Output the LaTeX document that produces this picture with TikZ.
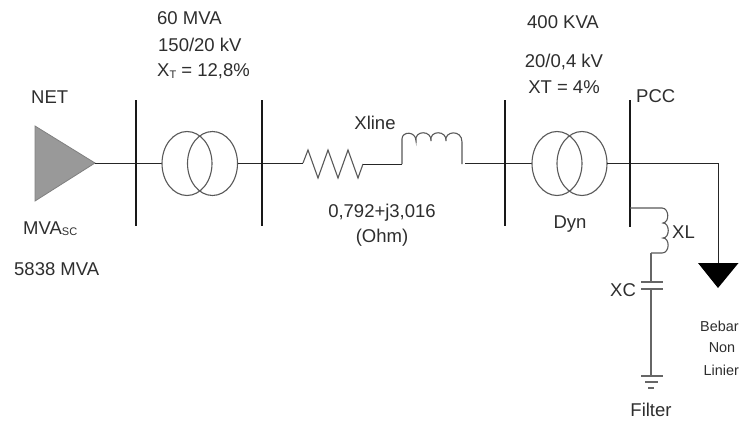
\documentclass[tikz,border=0pt]{standalone}
\usepackage{fontspec}
\setmainfont{Liberation Sans}
\tikzset{
  lbl/.style={inner sep=0pt,text=black!82,font=\fontsize{18.5}{21}\selectfont},
  lblsmall/.style={inner sep=0pt,text=black!82,font=\fontsize{14.4}{16}\selectfont},
  wire/.style={draw=black!85,line width=1pt},
  grayw/.style={draw=black!60,line width=1.2pt},
  busbar/.style={draw=black!90,line width=2.2pt},
  coil/.style={draw=black!65,line width=1.1pt,fill=none},
}
\begin{document}
\begin{tikzpicture}[x=1pt,y=-1pt]
\useasboundingbox (0,0) rectangle (739,421);
\fill[white] (0,0) rectangle (739,421);
% named points
\coordinate (net) at (95,163);
\coordinate (b1t) at (136,100); \coordinate (b1b) at (136,226);
\coordinate (b2t) at (262,100); \coordinate (b2b) at (262,226);
\coordinate (b3t) at (505,100); \coordinate (b3b) at (505,226);
\coordinate (b4t) at (630,100); \coordinate (b4b) at (630,227);
\coordinate (t1l) at (162,163); \coordinate (t1r) at (238,163);
\coordinate (t2l) at (532,163); \coordinate (t2r) at (607,163);
\coordinate (rin) at (303,163); \coordinate (rout) at (363,164);
\coordinate (lin) at (402,164); \coordinate (lout) at (462,164);
\coordinate (lgap) at (465,163);
\coordinate (loadc) at (718,163); \coordinate (load) at (718,263);
\coordinate (fa) at (630,208); \coordinate (fb) at (651,208); \coordinate (fc) at (651,253);
\coordinate (capt) at (651,282); \coordinate (capb) at (651,289); \coordinate (gnd) at (651,376);
% source
\path[fill=black!40,draw=black!50,line width=.8pt] (35,126) -- (35,201) -- (net) -- cycle;
\draw[wire] (net) -- (t1l);
% transformer 1
\draw[coil] (187,163.5) ellipse [x radius=25,y radius=32];
\draw[coil] (212.5,163.5) ellipse [x radius=25,y radius=32];
\draw[wire] (t1r) -- (rin);
\draw[busbar] (b1t) -- (b1b);
\draw[busbar] (b2t) -- (b2b);
% resistor
\draw[coil] (rin) -- (308,150) -- (318,178) -- (328,150) -- (338,178) -- (348,150) -- (358,178) -- (rout);
\draw[wire] (rout) -- (lin);
% line inductor
\draw[coil] (lin) -- (402,139)
  .. controls (402,131) and (416,131) .. (416,141)
  .. controls (414,130) and (432,130) .. (431,141)
  .. controls (429,130) and (447,130) .. (446,141)
  .. controls (444,131) and (462,129) .. (462,142) -- (lout);
\draw[wire] (lgap) -- (t2l);
\draw[busbar] (b3t) -- (b3b);
% transformer 2
\draw[coil] (557,163.5) ellipse [x radius=25,y radius=32];
\draw[coil] (582,163.5) ellipse [x radius=25,y radius=32];
\draw[wire] (t2r) -- (loadc) -- (load);
\draw[busbar] (b4t) -- (b4b);
% load
\fill[black] (698,263) -- (738.5,263) -- (718,288) -- cycle;
% filter
\draw[coil] (fa) -- (fb) -- (662,208)
  .. controls (669,208) and (670,222) .. (663,223)
  .. controls (670,223) and (670,238) .. (663,238)
  .. controls (670,238) and (670,253) .. (662,253) -- (fc);
\draw[grayw] (fc) -- (capt);
\draw[grayw] (641,282) -- (663,282);
\draw[grayw] (641,289) -- (663,289);
\draw[grayw] (capb) -- (gnd);
\draw[grayw] (641,376) -- (663,376);
\draw[grayw] (645,382) -- (658,382);
\draw[grayw] (648,388) -- (654,388);
% labels
\node[lbl,anchor=west] (a1) at (157,18) {60 MVA};
\node[lbl,anchor=west] (a2) at (158,45) {150/20 kV};
\node[lbl,anchor=west] (a3) at (157,71) {X\raisebox{-2pt}{\fontsize{11}{12}\selectfont T} = 12,8\%};
\node[lbl,anchor=west] (n1) at (31,97) {NET};
\node[lbl,anchor=west] (n2) at (23,229) {MVA\raisebox{-1pt}{\fontsize{11}{12}\selectfont SC}};
\node[lbl,anchor=west] (n3) at (14,269) {5838 MVA};
\node[lbl] (x1) at (375,123) {Xline};
\node[lbl] (x2) at (382,213) {0,792+j3,016};
\node[lbl] (x3) at (382,238) {(Ohm)};
\node[lbl] (b1) at (563,22) {400 KVA};
\node[lbl] (b2) at (564,62) {20/0,4 kV};
\node[lbl] (b3) at (564,87) {XT = 4\%};
\node[lbl,anchor=west] (p) at (636,96) {PCC};
\node[lbl] (d) at (570,224) {Dyn};
\node[lbl,anchor=west] (xl) at (672,232) {XL};
\node[lbl,anchor=west] (xc) at (610,290) {XC};
\node[lblsmall,anchor=west] (o1) at (700,326) {Bebar};
\node[lblsmall] (o2) at (722,348) {Non};
\node[lblsmall,anchor=west] (o3) at (703.5,370) {Linier};
\node[lbl] (f) at (651,410) {Filter};
\end{tikzpicture}
\end{document}
